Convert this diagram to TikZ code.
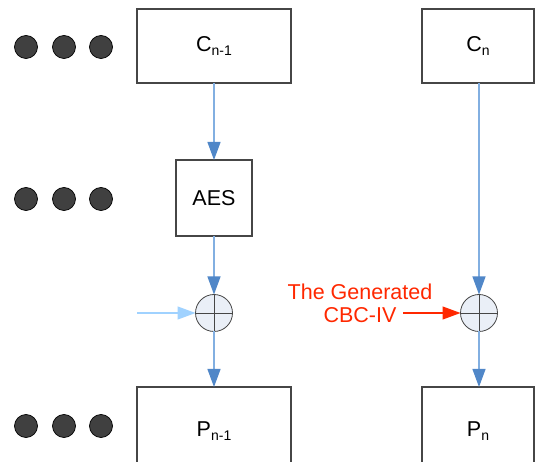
\documentclass[tikz,border=0pt]{standalone}
\usepackage{fontspec}
\setmainfont{Liberation Sans}
\usetikzlibrary{arrows.meta}
\definecolor{boxgray}{RGB}{70,70,70}
\definecolor{lineblue}{RGB}{130,175,225}
\definecolor{headblue}{RGB}{80,135,200}
\definecolor{lightblue}{RGB}{160,210,255}
\definecolor{redtxt}{RGB}{255,40,0}
\definecolor{xfill}{RGB}{234,239,247}
\definecolor{dotfill}{RGB}{64,64,64}
\newcommand\subs[1]{\raisebox{-0.4ex}{\fontsize{14}{14}\selectfont #1}}
\tikzset{
  blockbox/.style={draw=boxgray,line width=1.3pt,fill=white,inner sep=0pt,outer sep=0pt,
    font=\fontsize{21.5}{25}\selectfont},
  xorcirc/.style={draw=boxgray,line width=0.8pt,fill=xfill,circle,minimum size=37pt,inner sep=0pt,outer sep=0pt},
  dotnode/.style={circle,draw=black,line width=0.7pt,fill=dotfill,minimum size=23pt,inner sep=0pt},
  conn/.style={draw=lineblue,line width=1.2pt,-{Triangle[length=18pt,width=13pt,color=headblue]}},
  lconn/.style={draw=lightblue,line width=1.2pt,-{Triangle[length=18pt,width=13pt,color=lightblue]}},
  rconn/.style={draw=redtxt,line width=1.2pt,-{Triangle[length=18pt,width=13pt,color=redtxt]}},
}
\begin{document}
\begin{tikzpicture}[x=1pt,y=-1pt]
\clip (0,0) rectangle (536,462);
\fill[white] (0,0) rectangle (536,462);
% boxes
\node[blockbox,minimum width=154pt,minimum height=74pt] (cn1) at (214,46) {C\subs{n-1}};
\node[blockbox,minimum width=112pt,minimum height=74pt] (cn) at (478,46) {C\subs{n}};
\node[blockbox,minimum width=76pt,minimum height=76pt] (aes) at (214,198) {AES};
\node[blockbox,minimum width=154pt,minimum height=90pt,text depth=0pt] (pn1) at (214,432) {\raisebox{6pt}{P\subs{n-1}}};
\node[blockbox,minimum width=112pt,minimum height=90pt] (pn) at (478,432) {\raisebox{6pt}{P\subs{n}}};
% xor circles
\node[xorcirc] (x1) at (214,313) {};
\node[xorcirc] (x2) at (479,313) {};
\draw[boxgray,line width=0.8pt] (x1.north) -- (x1.south) (x1.west) -- (x1.east);
\draw[boxgray,line width=0.8pt] (x2.north) -- (x2.south) (x2.west) -- (x2.east);
% connectors
\draw[conn] (cn1.south) -- (aes.north);
\draw[conn] (aes.south) -- (x1.north);
\draw[conn] (x1.south) -- (pn1.north);
\draw[conn] (cn.south -| x2.north) -- (x2.north);
\draw[conn] (x2.south) -- (x2.south |- pn.north);
\coordinate (lin) at (137,313);
\coordinate (rin) at (403,313);
\draw[lconn] (lin) -- (x1.west);
\draw[rconn] (rin) -- (x2.west);
% label
\node[text=redtxt,font=\fontsize{21.5}{23}\selectfont,align=center] (lbl) at (360,303) {The Generated\\CBC-IV};
% dots
\foreach \y/\r in {47/a,199/b,426/c}{
  \node[dotnode] (d1\r) at (26,\y) {};
  \node[dotnode] (d2\r) at (64,\y) {};
  \node[dotnode] (d3\r) at (101,\y) {};
}
\end{tikzpicture}
\end{document}
